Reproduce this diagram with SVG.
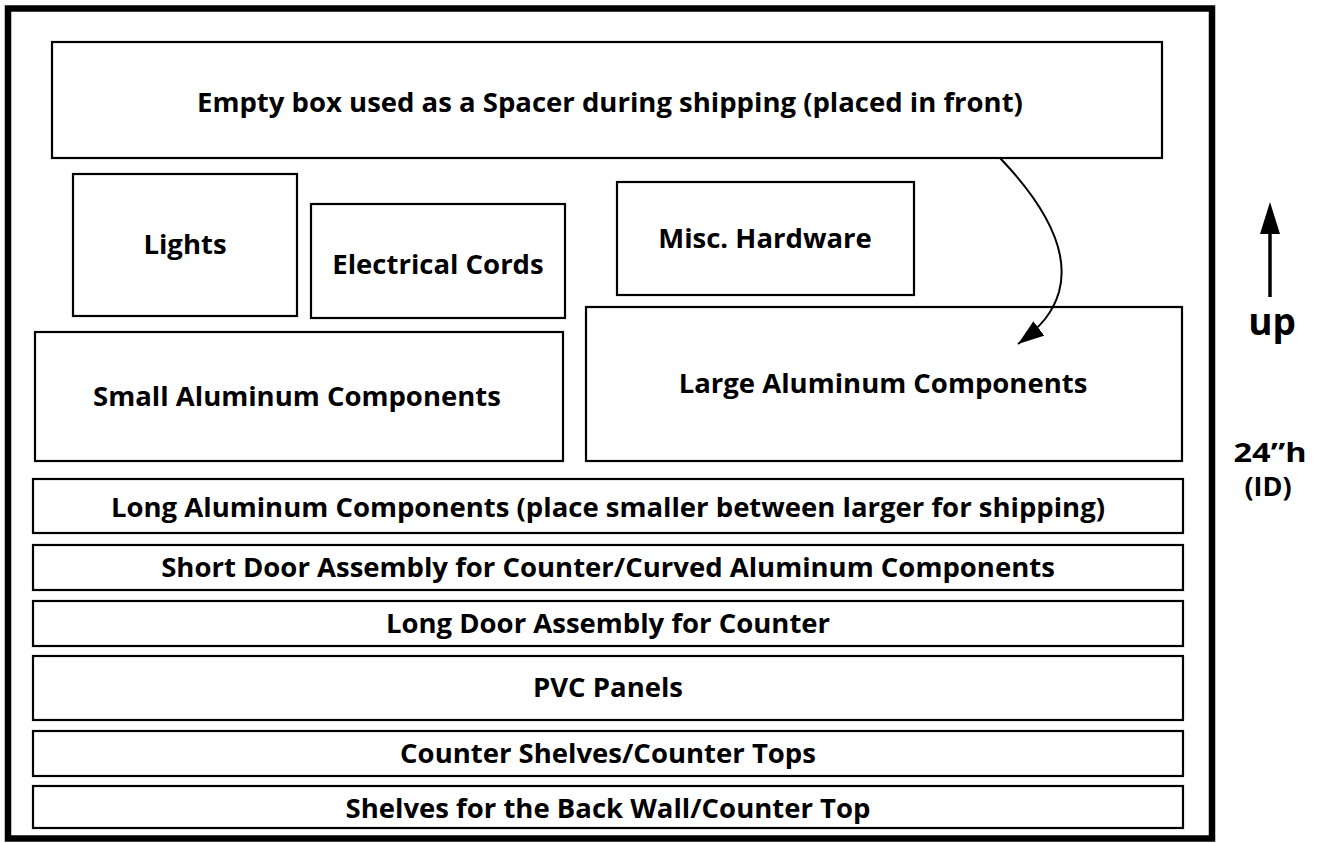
<svg xmlns="http://www.w3.org/2000/svg" width="1325" height="843" viewBox="0 0 1325 843">
<defs>
<style>
.box{fill:#fff;stroke:#000;stroke-width:2.2}
.t{font-family:"Open Sans","Noto Sans",sans-serif;font-weight:700;font-size:27.5px;text-anchor:middle;fill:#000}
.side{font-family:"Open Sans","Noto Sans",sans-serif;font-weight:700;font-size:27px;text-anchor:middle;fill:#000}
</style>
<marker id="ah" viewBox="0 0 26 18" refX="26" refY="9" markerWidth="26" markerHeight="18" markerUnits="userSpaceOnUse" orient="auto">
<path d="M0,0 L26,9 L0,18 Z" fill="#000"/>
</marker>
</defs>
<rect width="1325" height="843" fill="#fff"/>
<rect x="8" y="8.5" width="1204" height="830" fill="none" stroke="#000" stroke-width="6.5"/>
<g id="spacer"><rect class="box" x="52" y="42" width="1110" height="116"/><text class="t" x="610" y="112">Empty box used as a Spacer during shipping (placed in front)</text></g>
<g id="lights"><rect class="box" x="73" y="174" width="224" height="142"/><text class="t" x="185" y="254">Lights</text></g>
<g id="cords"><rect class="box" x="311" y="204" width="254" height="114"/><text class="t" x="438" y="274">Electrical Cords</text></g>
<g id="misc"><rect class="box" x="617" y="182" width="297" height="113"/><text class="t" x="765" y="248">Misc. Hardware</text></g>
<g id="small"><rect class="box" x="35" y="332" width="528" height="129"/><text class="t" x="297" y="406">Small Aluminum Components</text></g>
<g id="large"><rect class="box" x="586" y="307" width="596" height="154"/><text class="t" x="883" y="393">Large Aluminum Components</text></g>
<g id="long-al"><rect class="box" x="33" y="479" width="1150" height="54"/><text class="t" x="608" y="517">Long Aluminum Components (place smaller between larger for shipping)</text></g>
<g id="short-door"><rect class="box" x="33" y="545" width="1150" height="45"/><text class="t" x="608" y="577">Short Door Assembly for Counter/Curved Aluminum Components</text></g>
<g id="long-door"><rect class="box" x="33" y="601" width="1150" height="45"/><text class="t" x="608" y="633">Long Door Assembly for Counter</text></g>
<g id="pvc"><rect class="box" x="33" y="656" width="1150" height="64"/><text class="t" x="608" y="697">PVC Panels</text></g>
<g id="counter-shelves"><rect class="box" x="33" y="731" width="1150" height="45"/><text class="t" x="608" y="763">Counter Shelves/Counter Tops</text></g>
<g id="back-shelves"><rect class="box" x="33" y="786" width="1150" height="42"/><text class="t" x="608" y="818">Shelves for the Back Wall/Counter Top</text></g>
<g id="up-label"><text class="side" x="1272" y="335" style="font-size:37px">up</text></g>
<g id="height-label"><text class="side" x="1270" y="462" textLength="73" lengthAdjust="spacingAndGlyphs">24”h</text><text class="side" x="1268" y="496">(ID)</text></g>
<g id="connectors" fill="none" stroke="#000" stroke-width="2">
<path d="M1000,158 C1045,205 1070,252 1059,292 C1053,312 1042,326 1018,344" marker-end="url(#ah)"/>
<path d="M1270,297 L1270,225" stroke-width="3.5"/>
<path d="M1270,202 L1280,234 L1260,234 Z" fill="#000" stroke="none"/>
</g>
</svg>
